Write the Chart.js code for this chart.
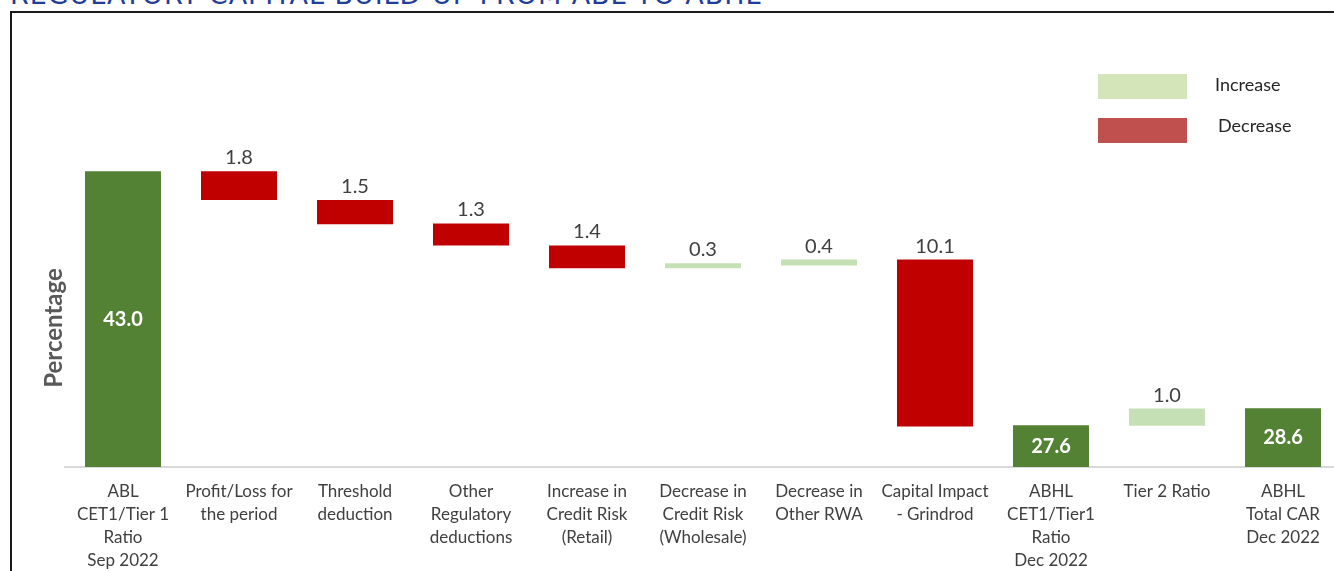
<!DOCTYPE html>
<html>
<head>
<meta charset="utf-8">
<script src="https://cdn.jsdelivr.net/npm/chart.js@4.4.0/dist/chart.umd.min.js"></script>
<style>
  body { margin: 0; overflow: hidden; background: #fff; width: 1334px; height: 571px; position: relative; }
  #title { position: absolute; left: 10px; top: -19px; font: 27px "DejaVu Sans"; color: #1F3D99; white-space: nowrap; letter-spacing: 0.95px; line-height: 27px; }
  #frame { position: absolute; left: 10px; top: 11px; width: 1400px; height: 700px; border: 2px solid #1a1a1a; pointer-events: none; }
  #myChart { position: absolute; left: 0; top: 0; }
  .legSwatch { position: absolute; left: 1098px; width: 89px; height: 25px; }
  .legText { position: absolute; font: 18px Lato; color: #262626; line-height: 20px; }
</style>
</head>
<body>
<div id="title">REGULATORY CAPITAL BUILD-UP FROM ABL TO ABHL</div>
<canvas id="myChart" width="1345" height="585"></canvas>
<div id="frame"></div>
<div class="legSwatch" style="top:74px;background:#D3E5B9"></div>
<div class="legText" style="left:1215px;top:74px">Increase</div>
<div class="legSwatch" style="top:118px;background:#C0504D"></div>
<div class="legText" style="left:1218px;top:115px">Decrease</div>
<script>
// Categories (multi-line tick labels)
const categories = [
  ['ABL', 'CET1/Tier 1', 'Ratio', 'Sep 2022'],
  ['Profit/Loss for', 'the period'],
  ['Threshold', 'deduction'],
  ['Other', 'Regulatory', 'deductions'],
  ['Increase in', 'Credit Risk', '(Retail)'],
  ['Decrease in', 'Credit Risk', '(Wholesale)'],
  ['Decrease in', 'Other RWA'],
  ['Capital Impact', '- Grindrod'],
  ['ABHL', 'CET1/Tier1', 'Ratio', 'Dec 2022'],
  ['Tier 2 Ratio'],
  ['ABHL', 'Total CAR', 'Dec 2022']
];

// Floating bar ends, as drawn in the picture
const barLow  = [0, 38.8, 35.3, 32.2, 28.9, 28.9, 29.3, 5.9, 0, 6.0, 0];
const barHigh = [43.0, 43.0, 38.8, 35.4, 32.2, 29.6, 30.15, 30.15, 6.05, 8.5, 8.55];

// Printed values
const valueLabels = ['43.0', '1.8', '1.5', '1.3', '1.4', '0.3', '0.4', '10.1', '27.6', '1.0', '28.6'];

// Bar type
const barKind = ['total', 'decrease', 'decrease', 'decrease', 'decrease', 'increase', 'increase', 'decrease', 'total', 'increase', 'total'];

const kindColor = { total: '#548235', decrease: '#C00000', increase: '#C5E0B4' };

const barLabels = {
  id: 'barLabels',
  afterDatasetsDraw(chart) {
    const ctx = chart.ctx;
    const meta = chart.getDatasetMeta(0);
    ctx.save();
    ctx.textAlign = 'center';
    meta.data.forEach((bar, i) => {
      if (barKind[i] === 'total') {
        ctx.font = 'bold 20px Lato';
        ctx.fillStyle = '#ffffff';
        ctx.textBaseline = 'middle';
        ctx.fillText(valueLabels[i], bar.x, (bar.y + bar.base) / 2);
      } else {
        ctx.font = '20px Lato';
        ctx.fillStyle = '#404040';
        ctx.textBaseline = 'alphabetic';
        ctx.fillText(valueLabels[i], bar.x, bar.y - 7);
      }
    });
    ctx.restore();

    // y axis title
    ctx.save();
    ctx.translate(54, 328);
    ctx.rotate(-Math.PI / 2);
    ctx.font = 'bold 24px Lato';
    ctx.fillStyle = '#595959';
    ctx.textAlign = 'center';
    ctx.textBaseline = 'middle';
    ctx.fillText('Percentage', 0, 0);
    ctx.restore();
  }
};

const data = {
  labels: categories,
  datasets: [{
    data: barLow.map((low, i) => [low, barHigh[i]]),
    backgroundColor: barKind.map(k => kindColor[k]),
    borderWidth: 0,
    borderSkipped: false,
    categoryPercentage: 1,
    barPercentage: 0.655
  }]
};

const config = {
  type: 'bar',
  data: data,
  options: {
    responsive: false,
    animation: false,
    layout: { padding: { left: 65, right: 4, top: 123, bottom: 0 } },
    plugins: {
      legend: { display: false },
      tooltip: { enabled: false }
    },
    scales: {
      x: {
        grid: { display: false, drawTicks: false },
        border: { display: true, color: '#D9D9D9', width: 2 },
        ticks: {
          color: '#404040',
          font: { family: 'Lato', size: 17, lineHeight: 1.353 },
          padding: 13,
          maxRotation: 0,
          autoSkip: false
        }
      },
      y: {
        display: false,
        min: 0,
        max: 50
      }
    }
  },
  plugins: [barLabels]
};

const ctx = document.getElementById('myChart').getContext('2d');
new Chart(ctx, config);
</script>
</body>
</html>
